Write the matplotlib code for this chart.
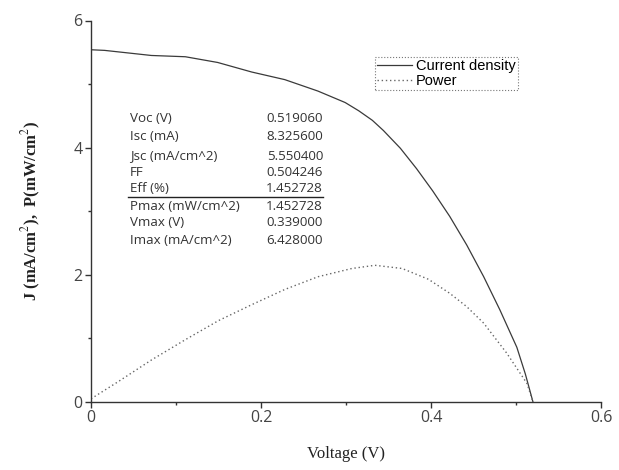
import matplotlib
matplotlib.use('Agg')
import matplotlib.pyplot as plt
from matplotlib.ticker import MultipleLocator

plt.rcParams['mathtext.fontset'] = 'stix'

# values
volt_j = [0.0, 0.016, 0.071, 0.111, 0.149, 0.189, 0.228, 0.267, 0.299, 0.315,
          0.331, 0.344, 0.364, 0.383, 0.402, 0.422, 0.442, 0.462, 0.481, 0.501,
          0.511, 0.520]
curr_j = [5.54, 5.53, 5.45, 5.43, 5.34, 5.19, 5.07, 4.89, 4.71, 4.58,
          4.43, 4.27, 3.99, 3.67, 3.32, 2.92, 2.47, 1.97, 1.45, 0.86,
          0.44, 0.0]

volt_p = [0.0, 0.032, 0.071, 0.111, 0.150, 0.189, 0.228, 0.267, 0.307, 0.334,
          0.366, 0.397, 0.422, 0.442, 0.462, 0.489, 0.513, 0.520]
power_p = [0.05, 0.32, 0.66, 0.98, 1.28, 1.53, 1.77, 1.97, 2.10, 2.15,
           2.10, 1.93, 1.71, 1.50, 1.24, 0.77, 0.29, 0.0]

table_names = ['Voc (V)', 'Isc (mA)', 'Jsc (mA/cm^2)', 'FF', 'Eff (%)',
               'Pmax (mW/cm^2)', 'Vmax (V)', 'Imax (mA/cm^2)']
table_vals = ['0.519060', '8.325600', '5.550400', '0.504246', '1.452728',
              '1.452728', '0.339000', '6.428000']

fig = plt.figure(figsize=(6.19, 4.70), dpi=100)
x0, x1, ytop, ybot = 91, 601, 20.5, 402
ax = fig.add_axes([x0/619, 1-ybot/470, (x1-x0)/619, (ybot-ytop)/470])

def ax_frac(px, py):
    return (px - x0) / (x1 - x0), (ybot - py) / (ybot - ytop)

ax.plot(volt_j, curr_j, color='#3a3a3a', lw=0.9, label='Current density')
ax.plot(volt_p, power_p, color='#666666', lw=1.0, ls=(0, (1, 2)), label='Power')

ax.set_xlim(0, 0.6)
ax.set_ylim(0, 6)
ax.xaxis.set_minor_locator(MultipleLocator(0.1))
ax.yaxis.set_minor_locator(MultipleLocator(1))
ax.set_xticks([0, 0.2, 0.4, 0.6])
ax.set_xticklabels(['0', '0.2', '0.4', '0.6'])
ax.set_yticks([0, 2, 4, 6])
ax.set_yticklabels(['0', '2', '4', '6'])
for s in ['top', 'right']:
    ax.spines[s].set_visible(False)
for s in ['left', 'bottom']:
    ax.spines[s].set_color('#333333')
    ax.spines[s].set_linewidth(1.0)
ax.tick_params(which='major', direction='out', length=4, width=1,
               colors='#333333', labelsize=11.5, pad=2)
ax.tick_params(which='minor', direction='out', length=2.5, width=1, colors='#333333')
for t in ax.get_xticklabels() + ax.get_yticklabels():
    t.set_fontfamily('Open Sans')
    t.set_color('#444444')

ax.set_xlabel('Voltage (V)', fontsize=12, fontfamily='Liberation Serif',
              labelpad=14, color='#222222')
ax.set_ylabel('J (mA/cm$^2$),  P(mW/cm$^2$)', fontsize=12, fontfamily='Liberation Serif',
              labelpad=22, color='#222222', fontweight='bold')

# parameter table
row_y = [118, 137, 156, 172, 189, 207, 223, 240]
for name, val, py in zip(table_names, table_vals, row_y):
    fx, fy = ax_frac(130, py)
    ax.text(fx, fy, name, transform=ax.transAxes, fontsize=9.6,
            fontfamily='Open Sans', color='#333333', va='center', ha='left')
    fx, fy = ax_frac(323, py)
    ax.text(fx, fy, val, transform=ax.transAxes, fontsize=9.6,
            fontfamily='Open Sans', color='#333333', va='center', ha='right')
ua, uy = ax_frac(128, 197)
ub, _ = ax_frac(323, 197)
ax.plot([ua, ub], [uy, uy], transform=ax.transAxes, color='#222222', lw=1.0)

leg = ax.legend(loc='upper left', bbox_to_anchor=ax_frac(375, 57),
                prop={'family': 'Liberation Sans', 'size': 10.5}, handlelength=2.4,
                handletextpad=0.25, borderpad=0.15, labelspacing=0.05,
                fancybox=False, framealpha=1, borderaxespad=0)
leg.get_frame().set_linestyle(':')
leg.get_frame().set_edgecolor('#777777')
leg.get_frame().set_linewidth(0.8)

fig.savefig('out.png', dpi=100)
